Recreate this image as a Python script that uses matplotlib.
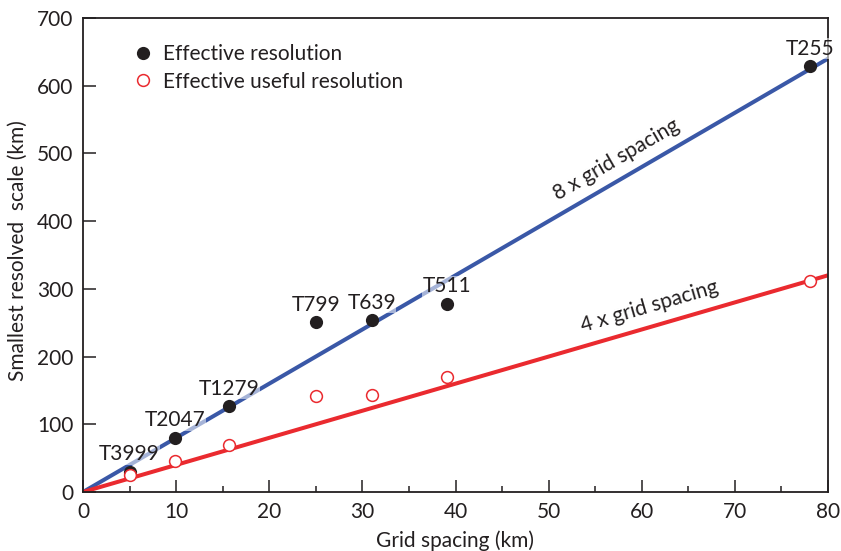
import numpy as np
import matplotlib
matplotlib.use('Agg')
import matplotlib.pyplot as plt

plt.rcParams['font.family'] = ['Lato', 'DejaVu Sans']

# data
labels = ['T3999', 'T2047', 'T1279', 'T799', 'T639', 'T511', 'T255']
grid_km = [5.0, 9.9, 15.7, 25.0, 31.0, 39.1, 78.1]
eff_res = [30, 80, 127, 251, 254, 278, 629]
eff_useful = [25, 46, 69, 142, 143, 170, 311]
line_x = [0, 80]
factor_8 = 8
factor_4 = 4

TXT = '#231F20'
BLUE = '#3A58A7'
RED = '#EA2A2F'
FS = 15

fig = plt.figure(figsize=(8.41, 5.51), dpi=100)
ax = fig.add_axes([83/841, 59/551, 745/841, 474/551])

ax.plot(line_x, [v * factor_8 for v in line_x], color=BLUE, lw=2.9, solid_capstyle='butt', zorder=2)
ax.plot(line_x, [v * factor_4 for v in line_x], color=RED, lw=2.9, solid_capstyle='butt', zorder=2)

ax.plot(grid_km, eff_res, 'o', color=TXT, ms=9.5, mew=0, zorder=4,
        label='Effective resolution')
ax.plot(grid_km, eff_useful, 'o', mfc='white', mec=RED, ms=8.5, mew=1.1, zorder=4,
        label='Effective useful resolution')

for lab, x, y in zip(labels, grid_km, eff_res):
    ax.annotate(lab, (x, y), xytext=(0, 12.5), textcoords='offset points',
                ha='center', va='center', fontsize=FS, color=TXT, zorder=3,
                bbox=dict(boxstyle='square,pad=0.02', fc='white', ec='none', alpha=0.55))

ax.set_xlim(0, 80)
ax.set_ylim(0, 700)

# labels along the lines, angle taken from the display transform
def line_angle(k):
    p0 = ax.transData.transform((0, 0))
    p1 = ax.transData.transform((80, 80 * k))
    return np.degrees(np.arctan2(p1[1] - p0[1], p1[0] - p0[0]))

ax.text(57.3, 491, '8 x grid spacing', rotation=line_angle(factor_8), rotation_mode='anchor',
        ha='center', va='center', fontsize=FS, color=TXT)
ax.text(60.8, 274, '4 x grid spacing', rotation=line_angle(factor_4), rotation_mode='anchor',
        ha='center', va='center', fontsize=FS, color=TXT)

ax.set_xticks(np.arange(0, 81, 10))
ax.set_xticks(np.arange(0, 81, 5), minor=True)
ax.set_yticks(np.arange(0, 701, 100))
ax.tick_params(axis='both', which='major', direction='in', length=9, width=1.1,
               color=TXT, labelcolor=TXT, labelsize=FS, pad=7)
ax.tick_params(axis='x', which='minor', direction='in', length=4.5, width=1.1, color=TXT)
for s in ax.spines.values():
    s.set_linewidth(1.3)
    s.set_color(TXT)

ax.set_xlabel('Grid spacing (km)', fontsize=FS, color=TXT)
ax.set_ylabel('Smallest resolved  scale (km)', fontsize=FS, color=TXT)
ax.xaxis.set_label_coords(0.5, -0.08)
ax.yaxis.set_label_coords(-0.074, 0.51)

ax.legend(loc='upper left', bbox_to_anchor=(0.053, 0.963), frameon=False, fontsize=FS,
          handletextpad=0.35, labelspacing=0.38, borderaxespad=0, handlelength=1.2,
          labelcolor=TXT)

fig.savefig('out.png', dpi=100)
